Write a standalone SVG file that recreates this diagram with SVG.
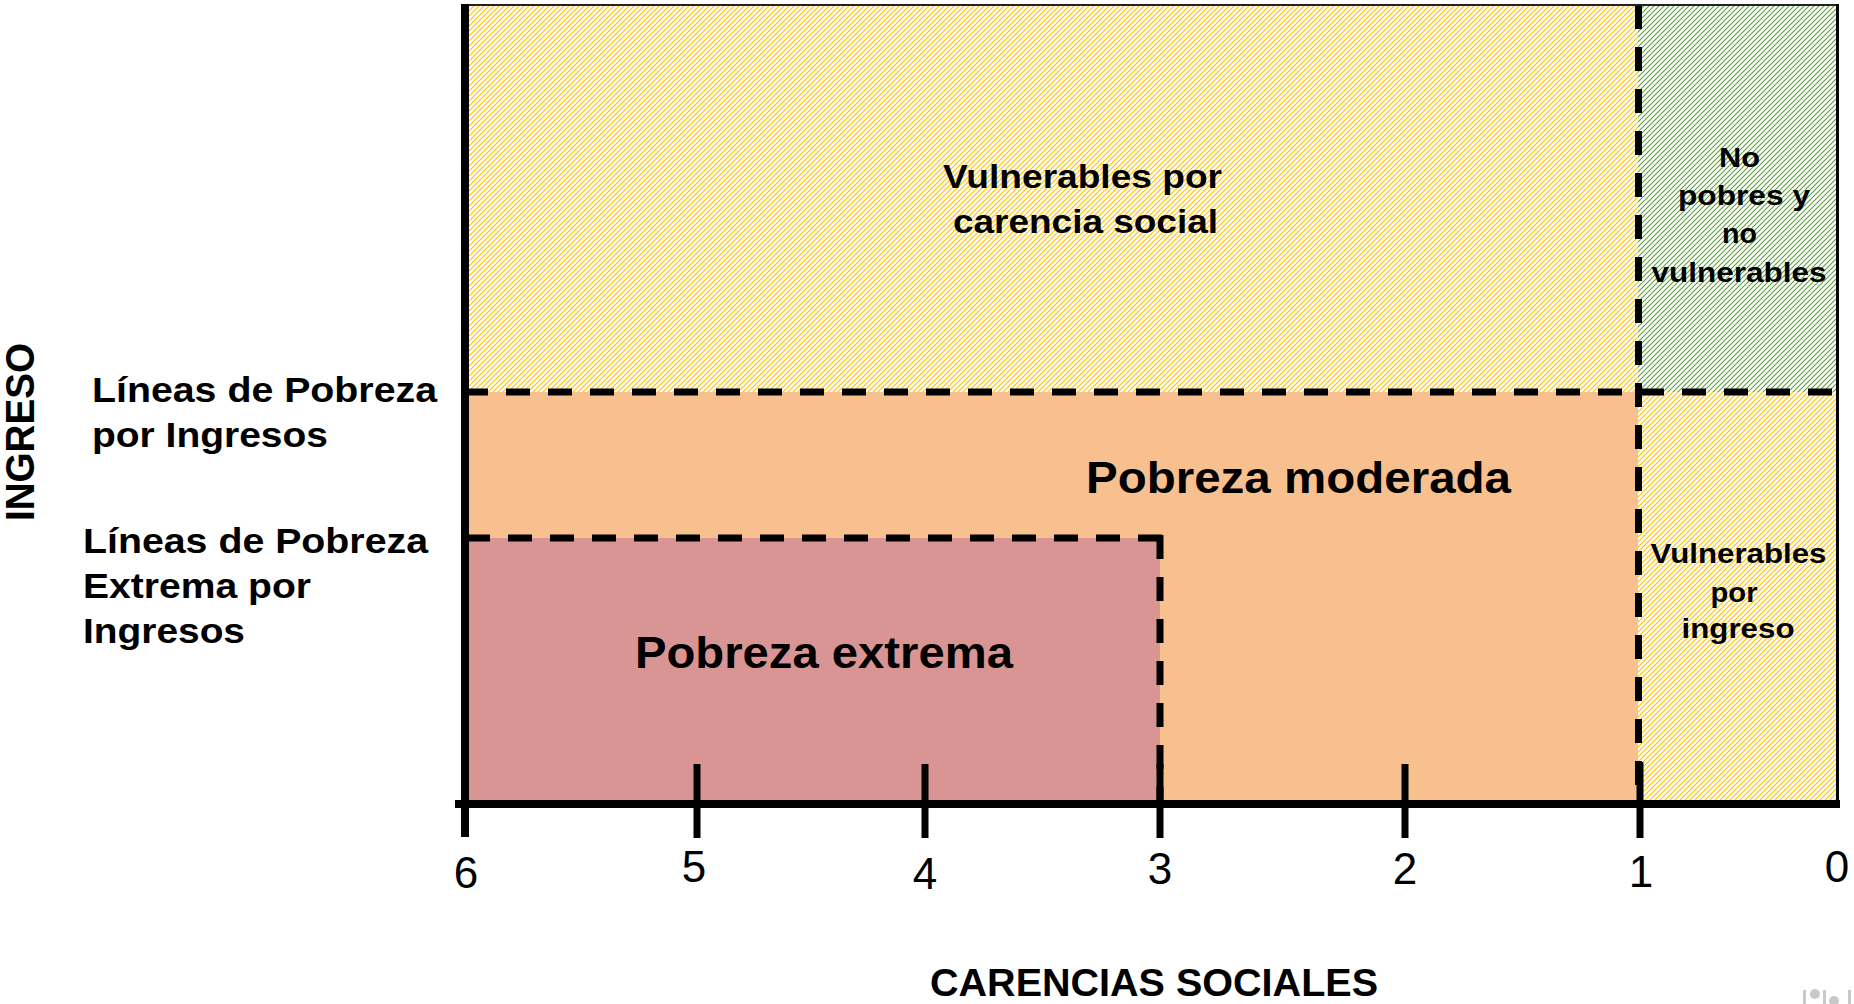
<svg xmlns="http://www.w3.org/2000/svg" width="1854" height="1004" viewBox="0 0 1854 1004">
  <defs>
    <pattern id="hatchY" patternUnits="userSpaceOnUse" width="5" height="5">
      <rect width="5" height="5" fill="#ffffff"/>
      <path d="M-1,6 L6,-1 M-1,1 L1,-1 M4,6 L6,4" stroke="#FFC000" stroke-width="1.1"/>
    </pattern>
    <pattern id="hatchG" patternUnits="userSpaceOnUse" width="5" height="5">
      <rect width="5" height="5" fill="#ffffff"/>
      <path d="M-1,6 L6,-1 M-1,1 L1,-1 M4,6 L6,4" stroke="#5E9E3E" stroke-width="1.1"/>
    </pattern>
    <style>
      .b { font-family: "Liberation Sans", Arial, sans-serif; font-weight: bold; fill: #000; }
      .n { font-family: "Liberation Sans", Arial, sans-serif; font-weight: normal; fill: #000; font-size: 44px; text-anchor: middle; }
      .mid { text-anchor: middle; }
      .dash { stroke: #000; stroke-width: 7; fill: none; stroke-dasharray: 24 18; }
      .axis { stroke: #000; stroke-width: 8; fill: none; }
      .tick { stroke: #000; stroke-width: 7; fill: none; }
    </style>
  </defs>

  <rect width="1854" height="1004" fill="#ffffff"/>

  <g id="regions">
    <g id="vulnerables-carencia"><rect x="469" y="6" width="1169" height="386" fill="url(#hatchY)"/></g>
    <g id="no-pobres"><rect x="1638" y="6" width="199" height="386" fill="url(#hatchG)"/></g>
    <g id="vulnerables-ingreso"><rect x="1638" y="392" width="199" height="412" fill="url(#hatchY)"/></g>
    <g id="pobreza-moderada"><rect x="469" y="392" width="1169" height="412" fill="#F8BF8F"/></g>
    <g id="pobreza-extrema"><rect x="469" y="538" width="691" height="266" fill="#D99594"/></g>
  </g>

  <g id="connectors">
    <line x1="461" y1="5" x2="1839" y2="5" stroke="#222" stroke-width="2"/>
    <line x1="1837.5" y1="4" x2="1837.5" y2="804" stroke="#000" stroke-width="3"/>
    <line class="dash" x1="469" y1="392" x2="1837" y2="392" stroke-dashoffset="5"/>
    <line class="dash" x1="1638.5" y1="6" x2="1638.5" y2="804" stroke-dashoffset="1"/>
    <line class="dash" x1="469" y1="538" x2="1163" y2="538" stroke-dashoffset="3"/>
    <line class="dash" x1="1160" y1="535" x2="1160" y2="804"/>
    <line class="axis" x1="465" y1="4" x2="465" y2="837"/>
    <line class="axis" x1="455" y1="804" x2="1840" y2="804"/>
    <line class="tick" x1="697" y1="764" x2="697" y2="838"/>
    <line class="tick" x1="925" y1="764" x2="925" y2="838"/>
    <line class="tick" x1="1160" y1="764" x2="1160" y2="838"/>
    <line class="tick" x1="1405" y1="764" x2="1405" y2="838"/>
    <line class="tick" x1="1640" y1="762" x2="1640" y2="838"/>
  </g>

  <g id="region-labels">
    <text class="b mid" font-size="33" x="1082.5" y="188" textLength="279" lengthAdjust="spacingAndGlyphs">Vulnerables por</text>
    <text class="b mid" font-size="33" x="1085.5" y="233" textLength="265" lengthAdjust="spacingAndGlyphs">carencia social</text>
    <text class="b mid" font-size="28" x="1739.5" y="167" textLength="41" lengthAdjust="spacingAndGlyphs">No</text>
    <text class="b mid" font-size="28" x="1744" y="205" textLength="132" lengthAdjust="spacingAndGlyphs">pobres y</text>
    <text class="b mid" font-size="28" x="1739.5" y="243" textLength="35" lengthAdjust="spacingAndGlyphs">no</text>
    <text class="b mid" font-size="28" x="1739" y="282" textLength="175" lengthAdjust="spacingAndGlyphs">vulnerables</text>
    <text class="b mid" font-size="44" x="1298.5" y="493" textLength="425" lengthAdjust="spacingAndGlyphs">Pobreza moderada</text>
    <text class="b mid" font-size="44" x="824" y="668" textLength="378" lengthAdjust="spacingAndGlyphs">Pobreza extrema</text>
    <text class="b mid" font-size="28" x="1738.5" y="563" textLength="176" lengthAdjust="spacingAndGlyphs">Vulnerables</text>
    <text class="b mid" font-size="28" x="1734" y="602" textLength="47" lengthAdjust="spacingAndGlyphs">por</text>
    <text class="b mid" font-size="28" x="1738" y="638" textLength="113" lengthAdjust="spacingAndGlyphs">ingreso</text>
  </g>

  <g id="axis-labels">
    <text class="b" font-size="35" x="92" y="402" textLength="345" lengthAdjust="spacingAndGlyphs">Líneas de Pobreza</text>
    <text class="b" font-size="35" x="92" y="447" textLength="236" lengthAdjust="spacingAndGlyphs">por Ingresos</text>
    <text class="b" font-size="35" x="83" y="553" textLength="345" lengthAdjust="spacingAndGlyphs">Líneas de Pobreza</text>
    <text class="b" font-size="35" x="83" y="598" textLength="228" lengthAdjust="spacingAndGlyphs">Extrema por</text>
    <text class="b" font-size="35" x="83" y="643" textLength="162" lengthAdjust="spacingAndGlyphs">Ingresos</text>
    <text class="b mid" font-size="40" transform="translate(34,432) rotate(-90)" x="0" y="0" textLength="178" lengthAdjust="spacingAndGlyphs">INGRESO</text>
    <text class="b mid" font-size="39" x="1154" y="996" textLength="448" lengthAdjust="spacingAndGlyphs">CARENCIAS SOCIALES</text>
    <text class="n" x="466" y="888">6</text>
    <text class="n" x="694" y="882">5</text>
    <text class="n" x="925" y="889">4</text>
    <text class="n" x="1160" y="884">3</text>
    <text class="n" x="1405" y="884">2</text>
    <text class="n" x="1641" y="887">1</text>
    <text class="n" x="1837" y="882">0</text>
  </g>

  <g id="watermark" fill="#c8c8c8">
    <rect x="1803" y="990" width="3" height="14"/>
    <circle cx="1815" cy="994" r="5"/>
    <rect x="1823" y="990" width="3" height="14"/>
    <circle cx="1834" cy="1001" r="5"/>
    <rect x="1848" y="990" width="3" height="14"/>
  </g>
</svg>
